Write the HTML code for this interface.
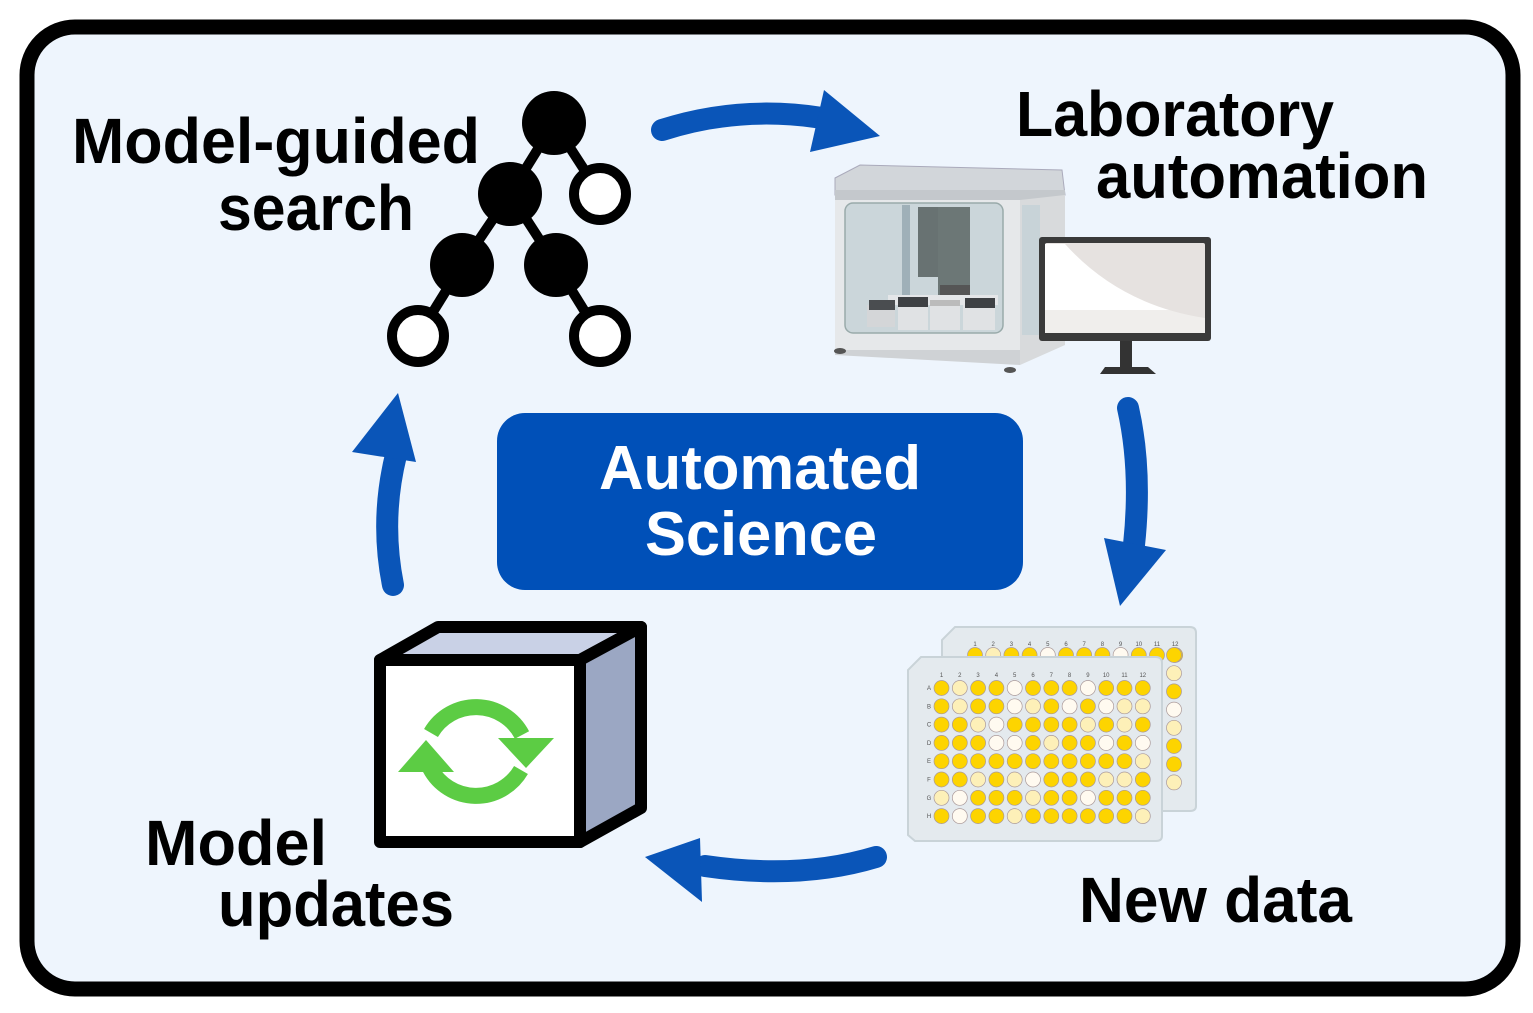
<!DOCTYPE html>
<html><head><meta charset="utf-8"><style>html,body{margin:0;padding:0;background:#fff}svg{display:block}</style></head>
<body>
<svg width="1533" height="1013" viewBox="0 0 1533 1013" xmlns="http://www.w3.org/2000/svg" font-family="Liberation Sans, sans-serif" font-weight="bold">
<rect x="27" y="27" width="1486" height="962" rx="48" fill="#eef5fd" stroke="#000" stroke-width="15"/>
<rect x="497" y="413" width="526" height="177" rx="28" fill="#0050b8"/>
<text x="760" y="489" font-size="62" fill="#fff" text-anchor="middle" textLength="322" lengthAdjust="spacingAndGlyphs">Automated</text>
<text x="761" y="555" font-size="62" fill="#fff" text-anchor="middle" textLength="232" lengthAdjust="spacingAndGlyphs">Science</text>
<g font-size="64" fill="#000">
<text x="72" y="163" textLength="408" lengthAdjust="spacingAndGlyphs">Model-guided</text>
<text x="218" y="230" textLength="196" lengthAdjust="spacingAndGlyphs">search</text>
<text x="1016" y="136" textLength="318" lengthAdjust="spacingAndGlyphs">Laboratory</text>
<text x="1096" y="198" textLength="332" lengthAdjust="spacingAndGlyphs">automation</text>
<text x="145" y="865" textLength="182" lengthAdjust="spacingAndGlyphs">Model</text>
<text x="218" y="926" textLength="236" lengthAdjust="spacingAndGlyphs">updates</text>
<text x="1079" y="922" textLength="273" lengthAdjust="spacingAndGlyphs">New data</text>
</g>
<g fill="none" stroke="#0a55b8" stroke-width="22" stroke-linecap="round">
<path d="M662 130 Q740 105 822 118"/>
<path d="M1128 408 Q1142 470 1134 545"/>
<path d="M876 857 Q800 880 705 866"/>
<path d="M393 585 Q380 520 396 455"/>
</g>
<g fill="#0a55b8">
<polygon points="824,90 880,136 810,152"/>
<polygon points="1104,538 1166,550 1120,606"/>
<polygon points="700,838 645,857 702,902"/>
<polygon points="352,452 398,393 416,462"/>
</g>
<g stroke="#000" stroke-width="10">
<line x1="554" y1="123" x2="600" y2="194"/><line x1="554" y1="123" x2="510" y2="194"/>
<line x1="510" y1="194" x2="462" y2="265"/><line x1="510" y1="194" x2="556" y2="265"/>
<line x1="462" y1="265" x2="418" y2="336"/><line x1="556" y1="265" x2="600" y2="336"/>
</g>
<g fill="#000"><circle cx="554" cy="123" r="32"/><circle cx="510" cy="194" r="32"/><circle cx="462" cy="265" r="32"/><circle cx="556" cy="265" r="32"/></g>
<g fill="#fff" stroke="#000" stroke-width="10"><circle cx="600" cy="194" r="26"/><circle cx="418" cy="336" r="26"/><circle cx="600" cy="336" r="26"/></g>
<g stroke="#000" stroke-width="12" stroke-linejoin="round">
<polygon points="380,660 438,627 641,627 580,660" fill="#c9d1e6"/>
<polygon points="580,660 641,627 641,808 580,842" fill="#9ba7c3"/>
<rect x="380" y="660" width="200" height="182" fill="#fff"/>
</g>
<g fill="none" stroke="#5ccc44" stroke-width="16">
<path d="M431 733 A52 52 0 0 1 522 735"/>
<path d="M521 770 A52 52 0 0 1 430 768"/>
</g>
<g fill="#5ccc44"><polygon points="498,738 554,738 526,768"/><polygon points="398,772 454,772 426,740"/></g>
<g>
<polygon points="835,178 860,165 1062,170 1065,195 835,195" fill="#d2d6da" stroke="#aab" stroke-width="1"/>
<rect x="835" y="190" width="230" height="12" fill="#c4c8cc"/>
<rect x="835" y="200" width="185" height="150" fill="#e6e8ea"/>
<polygon points="1020,200 1065,195 1065,345 1020,365" fill="#d8dadc"/>
<rect x="845" y="203" width="158" height="130" rx="8" fill="#cbd6da" stroke="#9aa" stroke-width="1.5"/>
<rect x="1022" y="205" width="18" height="130" fill="#c8d3d8"/>
<rect x="902" y="205" width="8" height="110" fill="#9fb0b8"/>
<rect x="918" y="207" width="20" height="70" fill="#687272"/>
<rect x="938" y="207" width="32" height="90" fill="#6c7776"/>
<rect x="940" y="285" width="30" height="18" fill="#555"/>
<rect x="888" y="295" width="110" height="10" fill="#e4e6e8"/>
<rect x="867" y="305" width="28" height="22" fill="#d4d6d8"/><rect x="869" y="300" width="26" height="10" fill="#4a4d50"/>
<rect x="898" y="305" width="30" height="25" fill="#e0e2e4"/><rect x="898" y="297" width="30" height="10" fill="#3e4144"/>
<rect x="930" y="305" width="30" height="25" fill="#e0e2e4"/><rect x="930" y="300" width="30" height="6" fill="#bbb"/>
<rect x="963" y="305" width="32" height="25" fill="#e0e2e4"/><rect x="965" y="298" width="30" height="10" fill="#3e4144"/>
<polygon points="835,350 1020,350 1020,365 835,355" fill="#cfd2d5"/>
<ellipse cx="840" cy="351" rx="6" ry="3" fill="#555"/><ellipse cx="1010" cy="370" rx="6" ry="3" fill="#555"/>
<rect x="1039" y="237" width="172" height="104" rx="3" fill="#3a3a3a"/>
<rect x="1045" y="243" width="160" height="90" rx="2" fill="#e6e2e0"/>
<path d="M1045 244 L1065 244 Q1120 305 1205 318 L1205 333 L1045 333 L1045 305 Z" fill="#fff"/>
<rect x="1045" y="310" width="160" height="23" fill="#e6e2e0" opacity="0.6"/>
<rect x="1120" y="341" width="12" height="26" fill="#333"/>
<polygon points="1105,367 1148,367 1156,374 1100,374" fill="#333"/>
</g>
<g id="plates" font-weight="normal"></g>
<script>
(function(){
var g=document.getElementById('plates');var ns='http://www.w3.org/2000/svg';
function el(t,a,txt){var e=document.createElementNS(ns,t);for(var k in a)e.setAttribute(k,a[k]);if(txt)e.textContent=txt;g.appendChild(e);return e;}
var C={Y:'#fdd400',L:'#fdf0b8',W:'#fffaf0'};
el('path',{d:'M955 627 L1190 627 Q1196 627 1196 633 L1196 806 Q1196 811 1190 811 L949 811 L942 805 L942 640 Z',fill:'#e4eaee',stroke:'#c9d3d8','stroke-width':2});
for(var i=0;i<12;i++)el('text',{x:975+i*18.2,y:646,'font-size':6,fill:'#555','text-anchor':'middle'},String(i+1));
var back='YLYYWYYYWYYY';for(var i=0;i<12;i++)el('circle',{cx:975+i*18.2,cy:655,r:7.5,fill:C[back[i]],stroke:'#a99','stroke-width':0.7});
var bc='YLYWLYYL';for(var j=0;j<8;j++)el('circle',{cx:1174,cy:655+j*18.2,r:7.5,fill:C[bc[j]],stroke:'#a99','stroke-width':0.7});
el('path',{d:'M921 657 L1156 657 Q1162 657 1162 663 L1162 836 Q1162 841 1156 841 L915 841 L908 835 L908 670 Z',fill:'#e4eaee',stroke:'#c9d3d8','stroke-width':2});
for(var i=0;i<12;i++)el('text',{x:941.5+i*18.3,y:677,'font-size':6,fill:'#555','text-anchor':'middle'},String(i+1));
var L='ABCDEFGH';for(var j=0;j<8;j++)el('text',{x:929,y:690+j*18.3,'font-size':6,fill:'#555','text-anchor':'middle'},L[j]);
var rows=['YLYYWYYYWYYY','YLYYWLYWYWLL','YYLWYYYYLYLY','YYYWWYLYYWYW','YYYYYYYYYYYL','YYLYLWYYYLLY','LWYYYLYYWYYY','YWYYLYYYYYYL'];
for(var j=0;j<8;j++)for(var i=0;i<12;i++)el('circle',{cx:941.5+i*18.3,cy:688+j*18.3,r:7.5,fill:C[rows[j][i]],stroke:'#a99','stroke-width':0.7});
})();
</script>
</svg>
</body></html>
